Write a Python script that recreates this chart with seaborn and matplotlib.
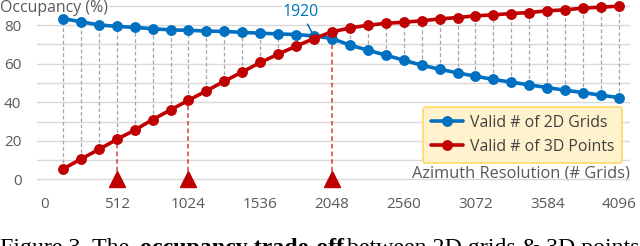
import numpy as np
import pandas as pd
import matplotlib
matplotlib.use("Agg")
import matplotlib.pyplot as plt
import seaborn as sns

# ---------------- data ----------------
resolution = list(range(128, 4097, 128))
grids_2d = [83.4, 81.7, 80.1, 79.3, 78.8, 78.1, 77.5, 77.3, 76.9, 76.7, 76.2, 75.8,
            75.4, 75.1, 74.4, 73.0, 69.6, 67.0, 64.4, 61.8, 59.2, 57.1, 55.2, 53.5,
            51.8, 50.4, 49.0, 47.6, 46.2, 45.0, 43.6, 42.4]
points_3d = [5.3, 10.5, 15.5, 20.7, 25.5, 31.0, 36.0, 41.0, 45.9, 50.9, 55.7, 60.6,
             64.9, 69.1, 73.0, 76.5, 78.5, 79.9, 80.9, 81.5, 82.2, 83.2, 83.9, 84.8,
             85.3, 86.0, 86.5, 87.4, 87.9, 88.8, 89.3, 89.8]
series_names = ["Valid # of 2D Grids", "Valid # of 3D Points"]
marked_res = [512, 1024, 2048]
cross_res = 1920
x_ticks = [0, 512, 1024, 1536, 2048, 2560, 3072, 3584, 4096]
y_ticks = [0, 20, 40, 60, 80]
y_minor = [10, 30, 50, 70, 90]

BLUE = "#0070C0"
RED = "#C00000"
GRAY_TXT = "#595959"

df = pd.DataFrame({
    "res": resolution * 2,
    "val": grids_2d + points_3d,
    "series": [series_names[0]] * len(resolution) + [series_names[1]] * len(resolution),
})

sns.set_theme(style="white")
plt.rcParams["font.family"] = ["Open Sans", "DejaVu Sans"]

W, H = 640, 246
fig = plt.figure(figsize=(W / 100, H / 100), dpi=100)
ax_l, ax_r, ax_t, ax_b = 36.7, 629.5, 0.0, 189.0
ax = fig.add_axes([ax_l / W, 1 - ax_b / H, (ax_r - ax_l) / W, (ax_b - ax_t) / H])

# connector dashed lines between the two series
lo = np.minimum(grids_2d, points_3d)
hi = np.maximum(grids_2d, points_3d)
ax.vlines(resolution, lo, hi, colors="#A6A6A6", linestyles=(0, (3, 2)), linewidth=0.9, zorder=1)

# red dashed drop lines + triangles
red_at = [points_3d[resolution.index(r)] for r in marked_res]
ax.vlines(marked_res, [0] * len(marked_res), red_at, colors=RED, alpha=0.75,
          linestyles=(0, (3, 2)), linewidth=1.1, zorder=1)

sns.lineplot(data=df, x="res", y="val", hue="series", palette=[BLUE, RED],
             marker="o", markersize=6.8, linewidth=2.6, ax=ax, zorder=3)
for ln in ax.lines:
    ln.set_markeredgecolor(ln.get_color())
    ln.set_markeredgewidth(1.0)

ax.plot(marked_res, [0] * len(marked_res), linestyle="none", marker="^", markersize=12,
        color=RED, clip_on=False, zorder=4)

ax.set_xlim(-59, 4171)
ax.set_ylim(-5, 93)
ax.set_xticks(x_ticks)
ax.set_yticks(y_ticks)
ax.set_yticks(y_minor, minor=True)
ax.grid(True, axis="y", which="both", color="#D9D9D9", linewidth=1.0)
ax.grid(False, axis="x")
ax.set_axisbelow(True)
for s in ax.spines.values():
    s.set_visible(False)
ax.tick_params(axis="both", which="both", length=0, labelsize=11, labelcolor=GRAY_TXT)
ax.tick_params(axis="y", pad=11)
ax.tick_params(axis="x", pad=6)

ax.set_xlabel("Azimuth Resolution (# Grids)", fontsize=11.8, color=GRAY_TXT, ha="right", va="center")
ax.xaxis.set_label_coords((630 - ax_l) / (ax_r - ax_l), (ax_b - 173) / (ax_b - ax_t))
ax.set_ylabel("Occupancy (%)", fontsize=11.4, color=GRAY_TXT, rotation=0, ha="left", va="center",
              bbox=dict(facecolor="white", edgecolor="none", pad=0.5))
ax.yaxis.set_label_coords((0 - ax_l) / (ax_r - ax_l), (ax_b - 8) / (ax_b - ax_t))

# crossover annotation
cross_val = grids_2d[resolution.index(cross_res)]
ax.annotate(str(cross_res), xy=(cross_res - 5, cross_val + 0.5), xytext=(-9, 16.5),
            textcoords="offset points", ha="center", va="center", fontsize=11.4, color=BLUE,
            bbox=dict(facecolor="white", edgecolor="none", pad=0.3),
            arrowprops=dict(arrowstyle="-", color=BLUE, lw=1.1, shrinkA=3, shrinkB=0), zorder=5)

handles, labels = ax.get_legend_handles_labels()
leg = ax.legend(handles, labels, loc="upper right",
                bbox_to_anchor=((622 - ax_l) / (ax_r - ax_l), (ax_b - 107) / (ax_b - ax_t)),
                borderaxespad=0, frameon=True, fancybox=True, fontsize=11.4,
                facecolor="#FFF2CC", edgecolor="#FFD966", framealpha=1,
                handlelength=2.0, labelspacing=0.5, borderpad=0.5, handletextpad=0.45)
leg.get_frame().set_linewidth(1.2)
for t in leg.get_texts():
    t.set_color("#404040")

# caption (partially cut off at the bottom, as in the reference)
cap_y = 1 - 254 / H
cap_kw = dict(fontsize=17.2, family="Liberation Serif", color="black", va="baseline", ha="left")
fig.text(0.5 / W, cap_y, "Figure 3. The", **cap_kw)
fig.text(140 / W, cap_y, "occupancy trade-off", fontweight="bold", **cap_kw)
fig.text(347 / W, cap_y, "between 2D grids & 3D points", **cap_kw)

fig.savefig("out.png", dpi=100)
